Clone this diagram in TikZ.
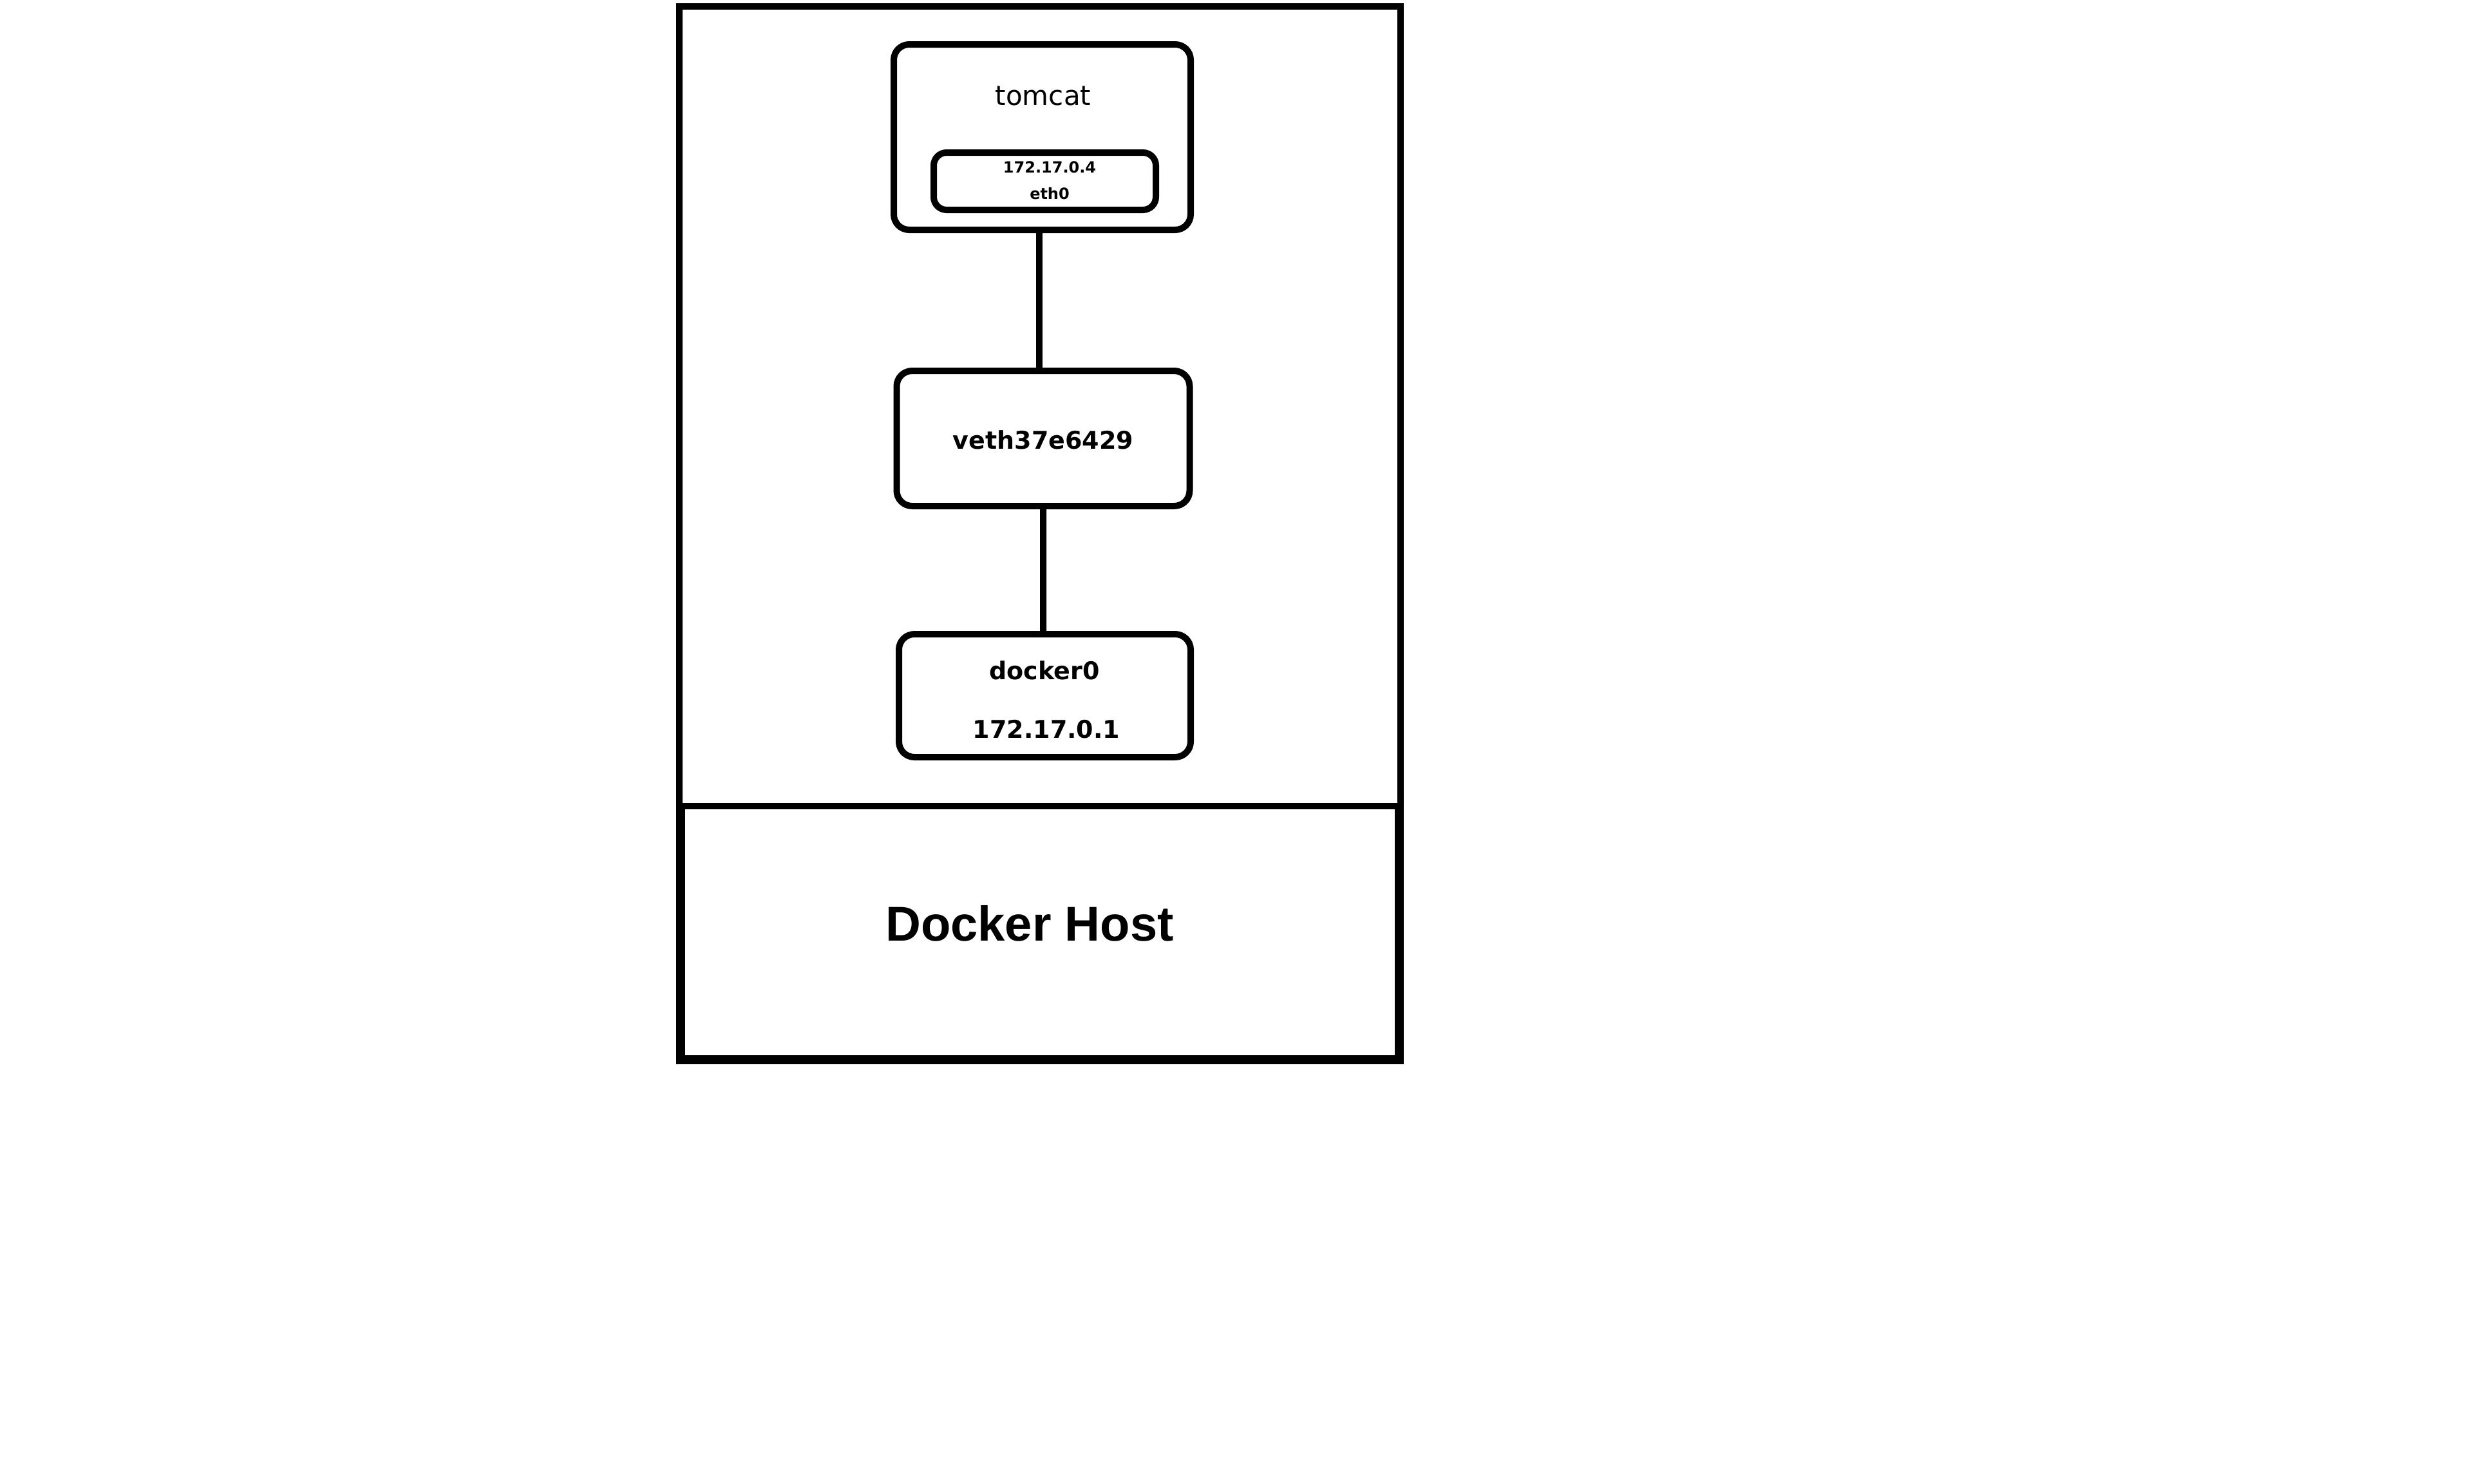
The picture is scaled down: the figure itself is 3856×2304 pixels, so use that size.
\documentclass[tikz,border=0pt]{standalone}
\usepackage{fontspec}
\setmainfont{DejaVu Sans}
\newfontfamily\hostfont{Liberation Sans}
\begin{document}
\begin{tikzpicture}[x=0.25pt,y=-0.25pt,
  box/.style={draw=black,line width=2.5pt,rounded corners=6pt,rectangle,inner sep=0pt,fill=white},
  lbl/.style={inner sep=0pt,anchor=base,text=black},
  conn/.style={draw=black,line width=2.5pt}]
\useasboundingbox (0,0) rectangle (3856,2304);
\fill[white] (0,0) rectangle (3856,2304);
% outer docker network box
\draw[line width=2.5pt] (1055,10) rectangle (2175,1252);
% docker host box
\draw[line width=3.6pt] (1057,1252) -- (1057,1646) -- (2173,1646) -- (2173,1252);
\node[lbl,font=\hostfont\bfseries\fontsize{19pt}{23pt}\selectfont] (host) at (1599,1461) {Docker Host};
% tomcat
\node[box,minimum width=115.25pt,minimum height=72pt] (tomcat) at (1618.5,213) {};
\node[lbl,font=\fontsize{10.5pt}{12pt}\selectfont] (tomcatlbl) at (1620,163) {tomcat};
\node[box,rounded corners=5pt,minimum width=86.25pt,minimum height=22.25pt] (eth) at (1622.5,281.5) {};
\node[lbl,font=\bfseries\fontsize{6pt}{7pt}\selectfont] (ethip) at (1630,268) {172.17.0.4};
\node[lbl,font=\bfseries\fontsize{6pt}{7pt}\selectfont] (ethname) at (1630,309) {eth0};
% veth
\node[box,minimum width=113.75pt,minimum height=52.5pt] (veth) at (1620,681) {};
\node[lbl,font=\bfseries\fontsize{9.5pt}{11pt}\selectfont] (vethlbl) at (1620,697) {veth37e6429};
% docker0
\node[box,minimum width=113.25pt,minimum height=47.75pt] (docker) at (1622.5,1080.5) {};
\node[lbl,font=\bfseries\fontsize{9.5pt}{11pt}\selectfont] (dockerlbl) at (1622,1055) {docker0};
\node[lbl,font=\bfseries\fontsize{9.5pt}{11pt}\selectfont] (dockerip) at (1625,1146) {172.17.0.1};
% connectors
\draw[conn] ([xshift=-1.125pt]tomcat.south) -- ([xshift=-1.5pt]veth.north);
\draw[conn] (veth.south) -- ([xshift=-0.6pt]docker.north);
\end{tikzpicture}
\end{document}
